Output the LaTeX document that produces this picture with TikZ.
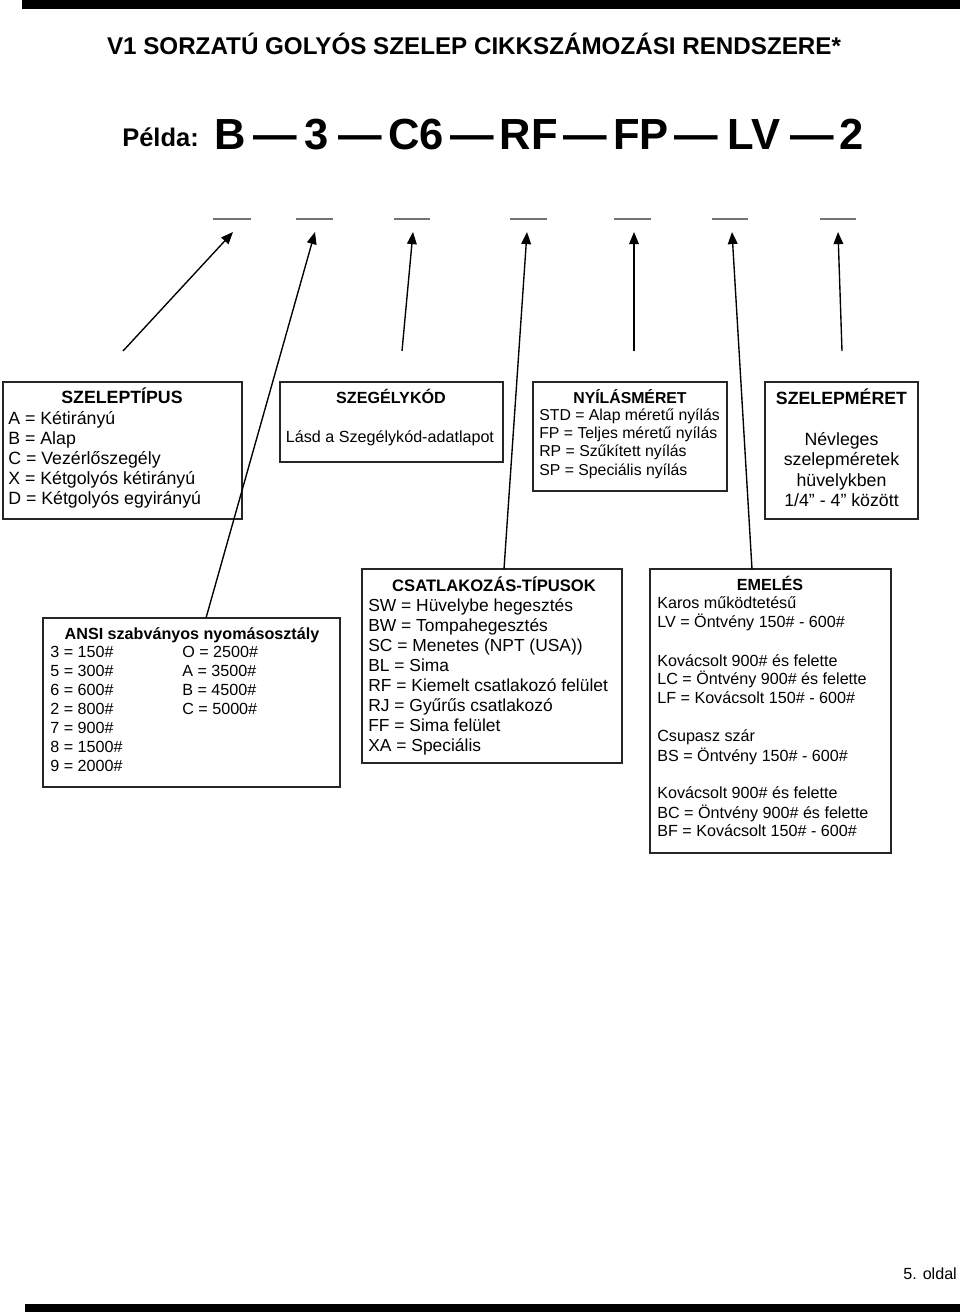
\documentclass[tikz,border=0pt]{standalone}
\usepackage{fontspec}
\setmainfont{Liberation Sans}
\usetikzlibrary{arrows.meta,fit}
\newcommand\fsTitle{\bfseries\fontsize{15pt}{17pt}\selectfont}
\newcommand\fsPelda{\bfseries\fontsize{15.8pt}{17pt}\selectfont}
\newcommand\fsBig{\bfseries\fontsize{27pt}{30pt}\selectfont}
\newcommand\fsEl{\fontsize{11pt}{12.5pt}\selectfont}
\newcommand\fsEb{\bfseries\fontsize{11pt}{12.5pt}\selectfont}
\newcommand\fsTz{\fontsize{10pt}{11.5pt}\selectfont}
\newcommand\fsTb{\bfseries\fontsize{10pt}{11.5pt}\selectfont}
\newcommand\fsNy{\fontsize{9.8pt}{11pt}\selectfont}
\newcommand\fsNb{\bfseries\fontsize{9.8pt}{11pt}\selectfont}
\newcommand\fsCs{\fontsize{10.8pt}{12pt}\selectfont}
\newcommand\fsCb{\bfseries\fontsize{10.3pt}{12pt}\selectfont}
\begin{document}
\begin{tikzpicture}[x=0.62pt,y=-0.62pt,
  box/.style={draw=black!85, line width=1.2pt, inner sep=0pt},
  conn/.style={line width=0.85pt, -{Triangle[length=7.5pt,width=6pt]}},
  blank/.style={draw=black!55, line width=0.8pt},
  bar/.style={fill=black, draw=none},
  txt/.style={inner sep=0pt, anchor=base west},
  ctr/.style={inner sep=0pt, anchor=base},
]
\useasboundingbox (0,0) rectangle (960,1315);
% bars
\fill[bar] (22,0) rectangle (960,9);
\fill[bar] (25,1304) rectangle (960,1312);
\node[txt, font=\fsTz] (page) at (903,1279) {5. oldal};
% title
\node[ctr, font=\fsTitle] (title) at (474,54) {V1 SORZATÚ GOLYÓS SZELEP CIKKSZÁMOZÁSI RENDSZERE*};
\node[txt, font=\fsPelda] (pelda) at (122,146) {Példa:};
\node[ctr, font=\fsBig] (e1) at (230,149) {B};
\node[ctr, font=\fsBig] (d1) at (275,149) {—};
\node[ctr, font=\fsBig] (e2) at (317,149) {3};
\node[ctr, font=\fsBig] (d2) at (360,149) {—};
\node[ctr, font=\fsBig] (e3) at (416,149) {C6};
\node[ctr, font=\fsBig] (d3) at (472,149) {—};
\node[ctr, font=\fsBig] (e4) at (529,149) {RF};
\node[ctr, font=\fsBig] (d4) at (585,149) {—};
\node[ctr, font=\fsBig] (e5) at (641,149) {FP};
\node[ctr, font=\fsBig] (d5) at (696,149) {—};
\node[ctr, font=\fsBig] (e6) at (754,149) {LV};
\node[ctr, font=\fsBig] (d6) at (812,149) {—};
\node[ctr, font=\fsBig] (e7) at (852,149) {2};
% blanks
\foreach \a/\b [count=\i] in {213/251,296/333,394/430,510/547,614/651,712/748,820/856}
  \draw[blank] (\a,219) -- (\b,219);
% arrow tips and free tails
\coordinate (t1) at (233,232);
\coordinate (t2) at (315,232);
\coordinate (t3) at (413,232);
\coordinate (t4) at (527,232);
\coordinate (t5) at (634,232);
\coordinate (t6) at (732,232);
\coordinate (t7) at (838,232);
\coordinate (s1) at (123,351);
\coordinate (s3) at (402,351);
\coordinate (s5) at (634,351);
\coordinate (s7) at (842,351);
\coordinate (s2) at (206,618);
\coordinate (s4) at (504,569);
\coordinate (s6) at (752,569);
% boxes
\node[box, fit={(3,382)(242,519)}] (b1) {};
\node[box, fit={(280,382)(503,462)}] (b2) {};
\node[box, fit={(533,382)(727,491)}] (b3) {};
\node[box, fit={(765,382)(918,519)}] (b4) {};
\node[box, fit={(43,618)(340,787)}] (b5) {};
\node[box, fit={(362,569)(622,763)}] (b6) {};
\node[box, fit={(650,569)(891,853)}] (b7) {};
% box 1
\node[ctr, font=\fsEb] (b1t) at (122,403) {SZELEPTÍPUS};
\foreach \t [count=\i] in {{A = Kétirányú},{B = Alap},{C = Vezérlőszegély},{X = Kétgolyós kétirányú},{D = Kétgolyós egyirányú}}
  \node[txt, font=\fsEl] (b1l\i) at (8,404+20*\i) {\t};
% box 2
\node[ctr, font=\fsTb] (b2t) at (391,403) {SZEGÉLYKÓD};
\node[ctr, font=\fsTz] (b2l) at (390,442) {Lásd a Szegélykód-adatlapot};
% box 3
\node[ctr, font=\fsNb] (b3t) at (630,403) {NYÍLÁSMÉRET};
\foreach \t [count=\i] in {{STD = Alap méretű nyílás},{FP = Teljes méretű nyílás},{RP = Szűkített nyílás},{SP = Speciális nyílás}}
  \node[txt, font=\fsNy] (b3l\i) at (539,402+18.3*\i) {\t};
% box 4
\node[ctr, font=\fsEb] (b4t) at (841.5,404) {SZELEPMÉRET};
\node[ctr, font=\fsEl] (b4l1) at (841.5,445) {Névleges};
\node[ctr, font=\fsEl] (b4l2) at (841.5,465.5) {szelepméretek};
\node[ctr, font=\fsEl] (b4l3) at (841.5,486) {hüvelykben};
\node[ctr, font=\fsEl] (b4l4) at (841.5,506.5) {1/4” - 4” között};
% box 5
\node[ctr, font=\fsTb] (b5t) at (192,639) {ANSI szabványos nyomásosztály};
\foreach \t [count=\i] in {{3 = 150\#},{5 = 300\#},{6 = 600\#},{2 = 800\#},{7 = 900\#},{8 = 1500\#},{9 = 2000\#}}
  \node[txt, font=\fsTz] (b5a\i) at (50,638+19*\i) {\t};
\foreach \t [count=\i] in {{O = 2500\#},{A = 3500\#},{B = 4500\#},{C = 5000\#}}
  \node[txt, font=\fsTz] (b5b\i) at (182,638+19*\i) {\t};
% box 6
\node[ctr, font=\fsCb] (b6t) at (494,591) {CSATLAKOZÁS-TÍPUSOK};
\foreach \t [count=\i] in {{SW = Hüvelybe hegesztés},{BW = Tompahegesztés},{SC = Menetes (NPT (USA))},{BL = Sima},{RF = Kiemelt csatlakozó felület},{RJ = Gyűrűs csatlakozó},{FF = Sima felület},{XA = Speciális}}
  \node[txt, font=\fsCs] (b6l\i) at (368,591+20*\i) {\t};
% box 7
\node[ctr, font=\fsTb] (b7t) at (770,590) {EMELÉS};
\foreach \y/\t [count=\i] in {608/{Karos működtetésű},627/{LV = Öntvény 150\# - 600\#},666/{Kovácsolt 900\# és felette},684/{LC = Öntvény 900\# és felette},703/{LF = Kovácsolt 150\# - 600\#},741/{Csupasz szár},761/{BS = Öntvény 150\# - 600\#},798/{Kovácsolt 900\# és felette},818/{BC = Öntvény 900\# és felette},836/{BF = Kovácsolt 150\# - 600\#}}
  \node[txt, font=\fsTz] (b7l\i) at (657,\y) {\t};
% connectors
\draw[conn] (s1) -- (t1);
\draw[conn] (s2) -- (t2);
\draw[conn] (s3) -- (t3);
\draw[conn] (s4) -- (t4);
\draw[conn] (s5) -- (t5);
\draw[conn] (s6) -- (t6);
\draw[conn] (s7) -- (t7);
\end{tikzpicture}
\end{document}
